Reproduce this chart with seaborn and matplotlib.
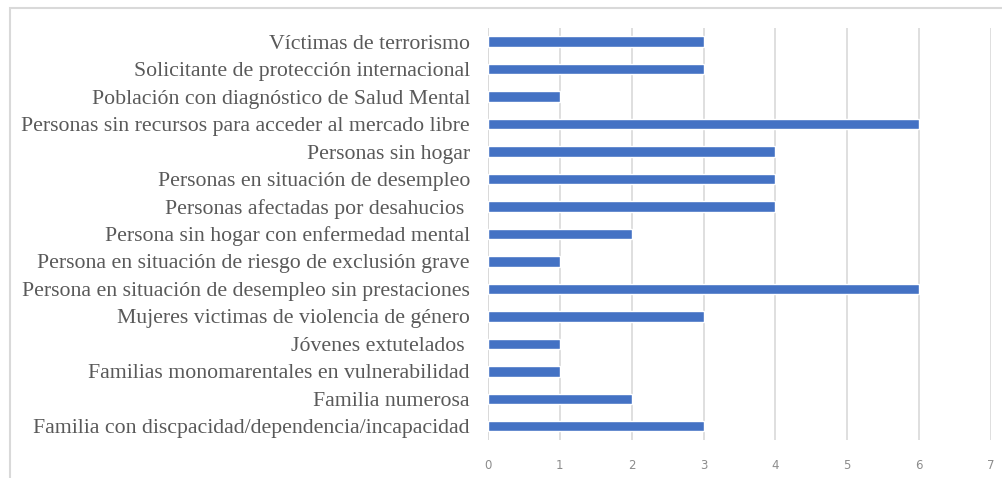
import matplotlib
matplotlib.use("Agg")
import matplotlib.pyplot as plt
import seaborn as sns
import pandas as pd
from matplotlib.patches import Rectangle

categories = [
    "Víctimas de terrorismo",
    "Solicitante de protección internacional",
    "Población con diagnóstico de Salud Mental",
    "Personas sin recursos para acceder al mercado libre",
    "Personas sin hogar",
    "Personas en situación de desempleo",
    "Personas afectadas por desahucios ",
    "Persona sin hogar con enfermedad mental",
    "Persona en situación de riesgo de exclusión grave",
    "Persona en situación de desempleo sin prestaciones",
    "Mujeres victimas de violencia de género",
    "Jóvenes extutelados ",
    "Familias monomarentales en vulnerabilidad",
    "Familia numerosa",
    "Familia con discpacidad/dependencia/incapacidad",
]
values = [3, 3, 1, 6, 4, 4, 4, 2, 1, 6, 3, 1, 1, 2, 3]
xticks = [0, 1, 2, 3, 4, 5, 6, 7]

df = pd.DataFrame({"cat": categories, "val": values})

sns.set_theme(style="white")
plt.rcParams["font.family"] = ["Liberation Serif", "DejaVu Serif"]

fig = plt.figure(figsize=(10.02, 4.78), dpi=100)
ax = fig.add_axes([0.487, 0.0795, 0.502, 0.862])

sns.barplot(data=df, x="val", y="cat", order=categories, color="#4472C4",
            saturation=1, width=0.38, ax=ax, orient="h")

ax.set_xlim(0, 7)
ax.set_ylim(14.5, -0.5)
ax.set_xticks(xticks)
ax.set_xticklabels([str(t) for t in xticks], fontfamily="DejaVu Sans",
                   fontsize=8.5, color="#8c8c8c")
ax.tick_params(axis="x", length=0, pad=14)
ax.tick_params(axis="y", length=0, pad=13, labelsize=15.7, labelcolor="#595959")
ax.set_xlabel("")
ax.set_ylabel("")
for s in ax.spines.values():
    s.set_visible(False)
ax.grid(axis="x", color="#d9d9d9", lw=1.2)
ax.set_axisbelow(True)
ax.axvline(0, color="#d9d9d9", lw=1.2, zorder=0)

# outer chart frame (cropped at right and bottom)
fig.patches.append(Rectangle((10 / 1002, -0.1), 1.2, 1 - 8 / 478 + 0.1,
                             transform=fig.transFigure, fill=False,
                             edgecolor="#d9d9d9", lw=1.5))

fig.savefig("out.png", dpi=100)
